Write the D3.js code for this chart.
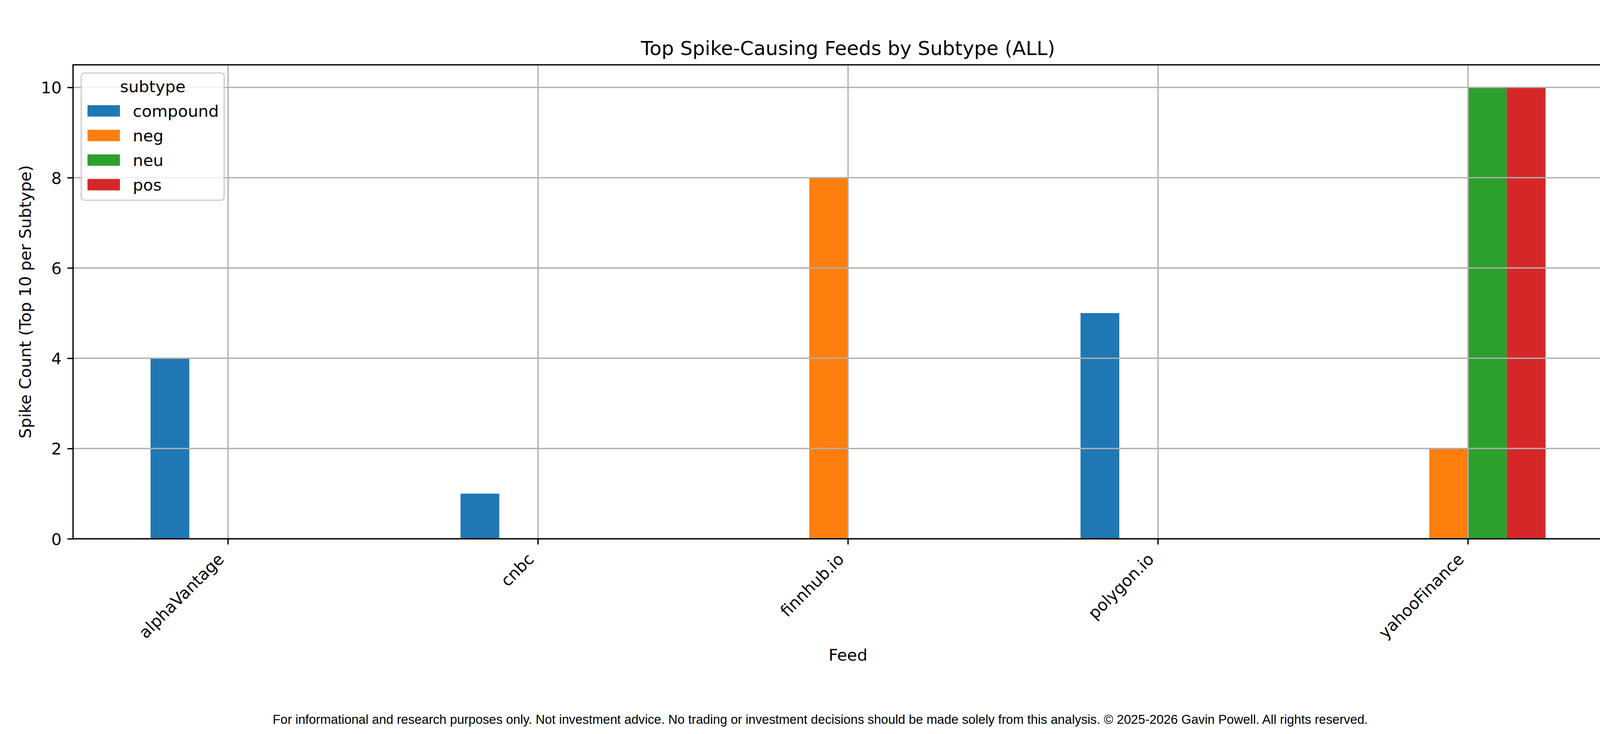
<!DOCTYPE html>
<html>
<head>
<meta charset="utf-8">
<script src="https://cdn.jsdelivr.net/npm/d3@7"></script>
<style>
  body { margin: 0; background: #fff; }
  svg { display: block; }
  svg text { font-family: "DejaVu Sans", sans-serif; fill: #000; }
</style>
</head>
<body>
<div class="content"></div>
<script>
// chart data
var feeds = ["alphaVantage", "cnbc", "finnhub.io", "polygon.io", "yahooFinance"];
var subtypes = ["compound", "neg", "neu", "pos"];
var compound = [4, 1, 0, 5, 0];
var neg = [0, 0, 8, 0, 2];
var neu = [0, 0, 0, 0, 10];
var pos = [0, 0, 0, 0, 10];
var yTicks = [0, 2, 4, 6, 8, 10];
var colors = ["#1f77b4", "#ff7f0e", "#2ca02c", "#d62728"];

var series = [compound, neg, neu, pos];

var W = 4200, H = 1880;
var plotL = 187, plotR = 4155, plotT = 166, plotB = 1380;
var fs = 41.67, lw = 3.33, tickLen = 14.6;

var svg = d3.select(".content")
  .append("svg")
  .attr("width", W)
  .attr("height", H)

svg.append("rect").attr("width", W).attr("height", H).attr("fill", "#fff")

var x = d3.scaleBand()
  .domain(feeds)
  .range([plotL, plotR])
  .paddingInner(0.5)
  .paddingOuter(0.25)

var xSub = d3.scaleBand()
  .domain(subtypes)
  .range([0, x.bandwidth()])

var y = d3.scaleLinear()
  .domain([0, 10.5])
  .range([plotB, plotT])

var color = d3.scaleOrdinal().domain(subtypes).range(colors)

var rows = [];
feeds.forEach(function(f, i) {
  subtypes.forEach(function(s, j) {
    rows.push({feed: f, subtype: s, value: series[j][i]});
  });
});

// bars
svg.append("g").selectAll("rect")
  .data(rows.filter(function(d) { return d.value > 0; }))
  .enter()
  .append("rect")
  .attr("x", function(d) { return x(d.feed) + xSub(d.subtype); })
  .attr("width", xSub.bandwidth())
  .attr("y", function(d) { return y(d.value); })
  .attr("height", function(d) { return y(0) - y(d.value); })
  .attr("fill", function(d) { return color(d.subtype); })

// grid (on top of bars, like matplotlib)
var grid = svg.append("g").attr("stroke", "#b0b0b0").attr("stroke-width", lw)
grid.selectAll(".gy")
  .data(yTicks)
  .enter()
  .append("line")
  .attr("x1", plotL).attr("x2", plotR)
  .attr("y1", function(d) { return y(d); })
  .attr("y2", function(d) { return y(d); })
grid.selectAll(".gx")
  .data(feeds)
  .enter()
  .append("line")
  .attr("y1", plotT).attr("y2", plotB)
  .attr("x1", function(d) { return x(d) + x.bandwidth() / 2; })
  .attr("x2", function(d) { return x(d) + x.bandwidth() / 2; })

// axes
var yAxis = d3.axisLeft(y).tickValues(yTicks).tickSize(tickLen).tickPadding(14.6).tickFormat(d3.format("d"))
var gy = svg.append("g").attr("transform", "translate(" + plotL + ",0)").call(yAxis)
gy.select(".domain").remove()
gy.selectAll(".tick line").attr("stroke", "#000").attr("stroke-width", lw)
gy.selectAll(".tick text").style("font-size", fs + "px").attr("dy", "0.36em")

var xAxis = d3.axisBottom(x).tickSize(tickLen).tickPadding(0)
var gx = svg.append("g").attr("transform", "translate(0," + plotB + ")").call(xAxis)
gx.select(".domain").remove()
gx.selectAll(".tick line").attr("stroke", "#000").attr("stroke-width", lw)
gx.selectAll(".tick text")
  .style("font-size", fs + "px")
  .attr("text-anchor", "end")
  .attr("dy", null)
  .attr("y", null)
  .attr("transform", "translate(-8,55) rotate(-45)")

// spines
svg.append("rect")
  .attr("x", plotL).attr("y", plotT)
  .attr("width", plotR - plotL).attr("height", plotB - plotT)
  .attr("fill", "none").attr("stroke", "#000").attr("stroke-width", lw)

// legend
var lg = svg.append("g")
var lx = 208, ly = 187, lwid = 366, lht = 326;
lg.append("rect")
  .attr("x", lx).attr("y", ly).attr("width", lwid).attr("height", lht)
  .attr("rx", 8.3).attr("ry", 8.3)
  .attr("fill", "rgba(255,255,255,0.8)")
  .attr("stroke", "rgba(204,204,204,0.8)")
  .attr("stroke-width", 4.17)
lg.append("text")
  .attr("x", lx + lwid / 2).attr("y", 236)
  .attr("text-anchor", "middle")
  .style("font-size", fs + "px")
  .text("subtype")
var li = lg.selectAll(".item")
  .data(subtypes)
  .enter()
  .append("g")
  .attr("transform", function(d, i) { return "translate(0," + (284 + i * 63) + ")"; })
li.append("rect")
  .attr("x", 224).attr("y", -14.6).attr("width", 83).attr("height", 29.2)
  .attr("fill", function(d) { return color(d); })
li.append("text")
  .attr("x", 340).attr("y", 14.5)
  .style("font-size", fs + "px")
  .text(function(d) { return d; })

// titles
svg.append("text")
  .attr("x", (plotL + plotR) / 2).attr("y", 141)
  .attr("text-anchor", "middle")
  .style("font-size", "50px")
  .text("Top Spike-Causing Feeds by Subtype (ALL)")

svg.append("text")
  .attr("x", (plotL + plotR) / 2).attr("y", 1692)
  .attr("text-anchor", "middle")
  .style("font-size", fs + "px")
  .text("Feed")

svg.append("text")
  .attr("transform", "translate(79," + (plotT + plotB) / 2 + ") rotate(-90)")
  .attr("text-anchor", "middle")
  .style("font-size", fs + "px")
  .text("Spike Count (Top 10 per Subtype)")

var foot = svg.append("text")
  .attr("x", W / 2).attr("y", 1854)
  .attr("text-anchor", "middle")
  .style("font-family", "'Liberation Sans', Arial, sans-serif")
  .style("font-size", "32px")
  .text("For informational and research purposes only. Not investment advice. No trading or investment decisions should be made solely from this analysis. \u00a9 2025-2026 Gavin Powell. All rights reserved.")
// fit footer to its width in the reference
var len = foot.node().getComputedTextLength();
foot.style("font-size", (32 * 2805 / len) + "px")
</script>
</body>
</html>
